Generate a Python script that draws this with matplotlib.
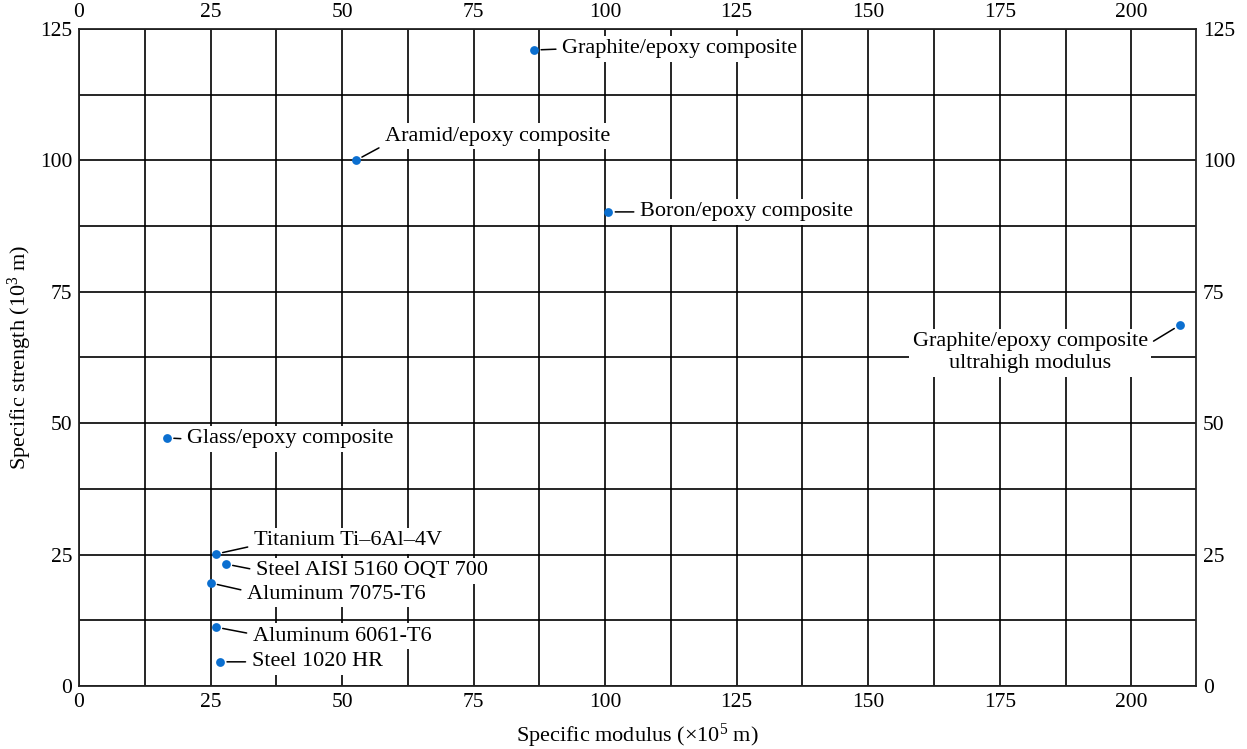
import numpy as np
import matplotlib.pyplot as plt
from matplotlib.ticker import MultipleLocator

# 材料数据
materials = ["Graphite/epoxy composite", "Aramid/epoxy composite", "Boron/epoxy composite",
             "Graphite/epoxy composite\nultrahigh modulus", "Glass/epoxy composite",
             "Titanium Ti\u20136Al\u20134V", "Steel AISI 5160 OQT 700", "Aluminum 7075-T6",
             "Aluminum 6061-T6", "Steel 1020 HR"]
modulus = [86.5, 52.6, 100.6, 209.3, 16.7, 26.0, 27.9, 25.0, 26.0, 26.8]
strength = [121.0, 100.0, 90.2, 68.7, 47.2, 25.1, 23.2, 19.6, 11.2, 4.6]
label_x = [91.8, 58.1, 106.6, 180.8, 20.5, 33.2, 33.6, 31.9, 33.0, 32.8]
label_y = [121.2, 104.6, 90.2, 63.4, 47.0, 27.6, 21.9, 17.5, 9.5, 4.6]
# 引线连接到文字框的位置
rel = [(0, 0.5), (0, 0.05), (0, 0.5), (1, 0.7), (0, 0.5),
       (0, 0.25), (0, 0.55), (0, 0.65), (0, 0.6), (0, 0.5)]

plt.rcParams['font.family'] = ['Liberation Serif', 'DejaVu Serif']
plt.rcParams['mathtext.default'] = 'regular'

fig = plt.figure(figsize=(12.47, 7.49), dpi=100)
ax = fig.add_axes([0.0634, 0.0841, 0.8957, 0.8772])

ax.set_xlim(0, 212.3)
ax.set_ylim(0, 125)
ax.xaxis.set_major_locator(MultipleLocator(25))
ax.yaxis.set_major_locator(MultipleLocator(25))
ax.xaxis.set_minor_locator(MultipleLocator(12.5))
ax.yaxis.set_minor_locator(MultipleLocator(12.5))
ax.grid(True, which='both', color='black', linewidth=1.2)
ax.set_axisbelow(True)
ax.tick_params(which='both', length=0, pad=5, labelsize=15.5,
               top=True, right=True, labeltop=True, labelright=True)
for s in ax.spines.values():
    s.set_linewidth(1.3)
    s.set_color('#222222')

ax.scatter(modulus, strength, s=40, color='#0b6fd0', zorder=5, linewidths=0)

for name, x, y, tx, ty, rp in zip(materials, modulus, strength, label_x, label_y, rel):
    multi = "\n" in name
    ax.annotate(name, xy=(x, y), xytext=(tx, ty),
                ha='center' if multi else 'left', va='center',
                multialignment='center', fontsize=16, zorder=4,
                linespacing=1.2,
                bbox=dict(boxstyle='square,pad=0.15', fc='white', ec='none'),
                arrowprops=dict(arrowstyle='-', color='black', lw=1.1,
                                shrinkA=2, shrinkB=5, relpos=rp))

ax.set_xlabel("Specific modulus (\u00d710$^5$ m)", fontsize=16, labelpad=7)
ax.set_ylabel("Specific strength (10$^3$ m)", fontsize=16, labelpad=4)

fig.savefig("out.png", dpi=100)
